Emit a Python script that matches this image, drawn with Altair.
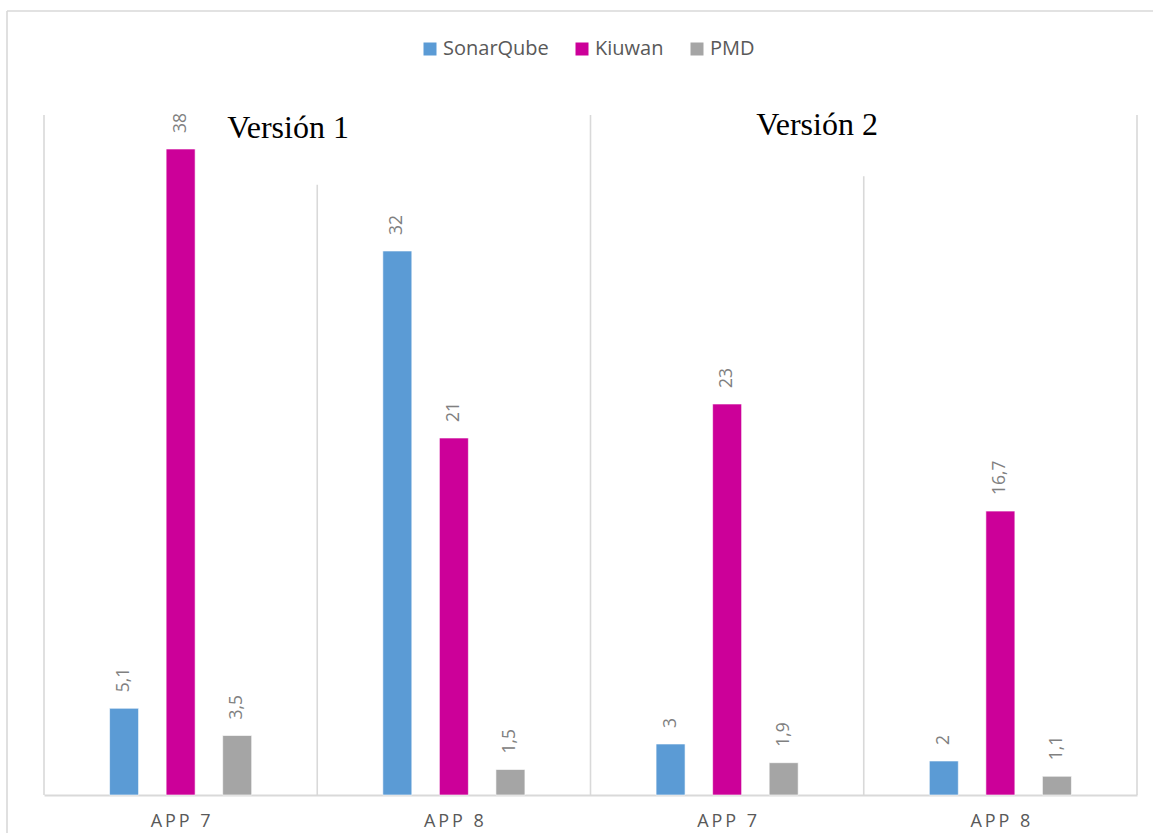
import altair as alt
import pandas as pd

# Categories (two versions, two apps each) and the three tools' values
versions = ["Versión 1", "Versión 1", "Versión 2", "Versión 2"]
apps = ["APP 7", "APP 8", "APP 7", "APP 8"]
series = ["SonarQube", "Kiuwan", "PMD"]
sonarqube = [5.1, 32, 3, 2]
kiuwan = [38, 21, 23, 16.7]
pmd = [3.5, 1.5, 1.9, 1.1]
colors = ["#5B9BD5", "#CC0099", "#A5A5A5"]

# Heights (in value units) of the vertical separators drawn at each category's left edge
separator_tops = [40, 35.9, 40, 36.4]
right_edge_top = 40

keys = [f"{i}|{a}" for i, a in enumerate(apps)]

rows = []
for k, v, a, s, ki, p in zip(keys, versions, apps, sonarqube, kiuwan, pmd):
    for name, val in zip(series, [s, ki, p]):
        rows.append({"key": k, "version": v, "app": a, "series": name, "value": val})
df = pd.DataFrame(rows)

cat_df = pd.DataFrame({"key": keys, "app": apps})
sep_df = pd.DataFrame({"key": keys, "top": separator_tops})
edge_df = pd.DataFrame({"key": [keys[-1]], "top": [right_edge_top]})

FONT = "Open Sans"
GRID = "#D9D9D9"

x_scale = alt.Scale(paddingInner=0, paddingOuter=0)
y_scale = alt.Scale(domain=[0, 40], nice=False, zero=True)

x_enc = alt.X(
    "key:N",
    sort=keys,
    scale=x_scale,
    axis=alt.Axis(
        title=None,
        labels=False,
        ticks=False,
        domainColor=GRID,
        domainWidth=2,
    ),
)
y_enc = alt.Y("value:Q", scale=y_scale, axis=None)
x_off = alt.XOffset(
    "series:N", sort=series, scale=alt.Scale(paddingInner=0.168, paddingOuter=1)
)

bars = (
    alt.Chart(df)
    .mark_bar(width=29, stroke="white", strokeWidth=0.6)
    .encode(
        x=x_enc,
        xOffset=x_off,
        y=y_enc,
        color=alt.Color(
            "series:N",
            sort=series,
            scale=alt.Scale(domain=series, range=colors),
            legend=alt.Legend(
                title=None,
                orient="none",
                direction="horizontal",
                legendX=376,
                legendY=-76,
                symbolType="square",
                symbolSize=169,
                symbolStrokeWidth=0,
                labelFont=FONT,
                labelFontSize=20,
                labelColor="#595959",
                columnPadding=23,
                labelOffset=3,
            ),
        ),
    )
)

value_labels = (
    alt.Chart(df)
    .transform_calculate(txt="replace(toString(datum.value), '.', ',')")
    .mark_text(
        angle=270,
        align="left",
        baseline="middle",
        dx=16,
        font=FONT,
        fontSize=17.5,
        color="#808080",
    )
    .encode(x=alt.X("key:N", sort=keys, scale=x_scale), xOffset=x_off, y=y_enc, text="txt:N")
)

# Letter-spaced category labels under each group
cat_labels = (
    alt.Chart(cat_df)
    .transform_calculate(lbl="join(split(datum.app, ''), '\u2009')")
    .mark_text(
        align="center",
        baseline="middle",
        font=FONT,
        fontSize=18,
        color="#595959",
    )
    .encode(x=alt.X("key:N", sort=keys, scale=x_scale), y=alt.value(707), text="lbl:N")
)

separators = (
    alt.Chart(sep_df)
    .mark_rule(color=GRID, strokeWidth=1.6)
    .encode(
        x=alt.X("key:N", sort=keys, scale=x_scale, bandPosition=0),
        y=alt.Y("top:Q", scale=y_scale, axis=None),
        y2=alt.datum(0),
    )
)

right_edge = (
    alt.Chart(edge_df)
    .mark_rule(color=GRID, strokeWidth=1.6)
    .encode(
        x=alt.X("key:N", sort=keys, scale=x_scale, bandPosition=1),
        y=alt.Y("top:Q", scale=y_scale, axis=None),
        y2=alt.datum(0),
    )
)

one = pd.DataFrame({"v": [0]})

# Outer frame of the chart (top and left edges)
frame_top = alt.Chart(one).mark_rule(color=GRID, strokeWidth=1.6).encode(
    x=alt.value(-37), x2=alt.value(1109), y=alt.value(-104)
)
frame_left = alt.Chart(one).mark_rule(color=GRID, strokeWidth=1.6).encode(
    x=alt.value(-37), y=alt.value(-104), y2=alt.value(718)
)

version_text = dict(font="Liberation Serif", fontSize=32, color="black", align="center", baseline="alphabetic")
v1 = alt.Chart(one).mark_text(**version_text).encode(
    x=alt.value(244), y=alt.value(23), text=alt.value(versions[0])
)
v2 = alt.Chart(one).mark_text(**version_text).encode(
    x=alt.value(773), y=alt.value(20), text=alt.value(versions[2])
)

chart = (
    alt.layer(frame_top, frame_left, separators, right_edge, bars, value_labels, cat_labels, v1, v2)
    .properties(
        width=1093,
        height=680,
        autosize=alt.AutoSizeParams(type="none"),
        padding={"left": 44, "top": 115, "right": 16, "bottom": 38},
        background="white",
    )
    .configure_view(stroke=None)
)

chart.save("out.html", embed_options={"renderer": "svg", "actions": False})
